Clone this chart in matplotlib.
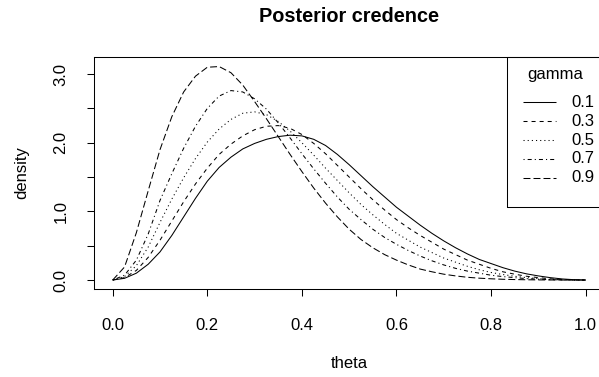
import matplotlib
matplotlib.use("Agg")
import matplotlib.pyplot as plt
from matplotlib.lines import Line2D
from matplotlib.patches import Rectangle

plt.rcParams["font.family"] = ["Liberation Sans", "DejaVu Sans"]
plt.rcParams["lines.scale_dashes"] = False

# values, theta step 0.025
theta = [0.000, 0.025, 0.050, 0.075, 0.100, 0.125, 0.150, 0.175, 0.200, 0.225,
         0.250, 0.275, 0.300, 0.325, 0.350, 0.375, 0.400, 0.425, 0.450, 0.475,
         0.500, 0.525, 0.550, 0.575, 0.600, 0.625, 0.650, 0.675, 0.700, 0.725,
         0.750, 0.775, 0.800, 0.825, 0.850, 0.875, 0.900, 0.925, 0.950, 0.975,
         1.000]
dens_01 = [0.00, 0.025, 0.10, 0.23, 0.41, 0.65, 0.92, 1.19, 1.44, 1.64,
           1.79, 1.91, 1.99, 2.05, 2.09, 2.11, 2.10, 2.05, 1.96, 1.83,
           1.68, 1.52, 1.36, 1.21, 1.06, 0.93, 0.80, 0.68, 0.57, 0.47,
           0.38, 0.30, 0.24, 0.18, 0.13, 0.09, 0.06, 0.035, 0.016, 0.005,
           0.00]
dens_03 = [0.00, 0.035, 0.14, 0.33, 0.58, 0.86, 1.14, 1.40, 1.63, 1.83,
           1.98, 2.10, 2.19, 2.24, 2.25, 2.21, 2.12, 1.99, 1.84, 1.67,
           1.50, 1.33, 1.17, 1.02, 0.88, 0.76, 0.65, 0.55, 0.45, 0.37,
           0.29, 0.23, 0.17, 0.12, 0.085, 0.055, 0.035, 0.018, 0.008, 0.002,
           0.00]
dens_05 = [0.00, 0.05, 0.21, 0.48, 0.84, 1.18, 1.49, 1.77, 2.01, 2.20,
           2.34, 2.43, 2.45, 2.41, 2.31, 2.17, 2.00, 1.82, 1.63, 1.45,
           1.27, 1.10, 0.95, 0.81, 0.68, 0.58, 0.48, 0.40, 0.32, 0.26,
           0.20, 0.15, 0.11, 0.08, 0.055, 0.035, 0.02, 0.01, 0.004, 0.001,
           0.00]
dens_07 = [0.00, 0.07, 0.29, 0.67, 1.16, 1.55, 1.92, 2.24, 2.50, 2.68,
           2.76, 2.74, 2.64, 2.49, 2.29, 2.07, 1.84, 1.62, 1.41, 1.21,
           1.03, 0.88, 0.74, 0.62, 0.52, 0.43, 0.35, 0.28, 0.22, 0.17,
           0.13, 0.10, 0.07, 0.05, 0.035, 0.02, 0.012, 0.006, 0.002, 0.0005,
           0.00]
dens_09 = [0.00, 0.19, 0.69, 1.30, 1.90, 2.38, 2.74, 2.97, 3.10, 3.11,
           3.02, 2.84, 2.60, 2.35, 2.09, 1.83, 1.58, 1.34, 1.12, 0.92,
           0.74, 0.59, 0.47, 0.37, 0.29, 0.22, 0.16, 0.12, 0.085, 0.06,
           0.04, 0.027, 0.018, 0.011, 0.007, 0.004, 0.002, 0.001, 0.00, 0.00,
           0.00]
gammas = ["0.1", "0.3", "0.5", "0.7", "0.9"]

# R lty 1..5, lengths in points
STYLES = [(0, ()), (0, (2.9, 2.9)), (0, (0.8, 2.2)), (0, (0.8, 2.2, 2.9, 2.2)),
          (0, (5.0, 2.2))]

W, H = 599, 377
fig = plt.figure(figsize=(W / 100, H / 100), dpi=100)


def fx(px):
    return px / W


def fy(py):
    return 1 - py / H


ax = fig.add_axes([fx(93.8), fy(288.6), fx(604.6 - 93.8), (288.6 - 57.3) / H])
for d, ls in zip([dens_01, dens_03, dens_05, dens_07, dens_09], STYLES):
    ax.plot(theta, d, color="black", linewidth=0.75, linestyle=ls)

ax.set_xlim(-0.04, 1.04)
ax.set_ylim(-0.1248, 3.2448)
ax.set_xticks([0, 0.2, 0.4, 0.6, 0.8, 1.0])
ax.set_xticklabels(["0.0", "0.2", "0.4", "0.6", "0.8", "1.0"])
ax.set_yticks([0, 0.5, 1, 1.5, 2, 2.5, 3])
ax.set_yticklabels(["0.0", "", "1.0", "", "2.0", "", "3.0"], rotation=90, va="center")
ax.tick_params(direction="out", length=5.2, width=0.75, labelsize=12, color="black")
ax.tick_params(axis="x", pad=16)
ax.tick_params(axis="y", pad=13)
for s in ax.spines.values():
    s.set_linewidth(0.75)

fig.text(fx(349), fy(16), "Posterior credence", ha="center", va="center",
         fontsize=14.3, fontweight="bold")
fig.text(fx(349), fy(363), "theta", ha="center", va="center", fontsize=12)
fig.text(fx(22), fy(173), "density", ha="center", va="center", fontsize=12,
         rotation=90)

# legend box, drawn by hand like R's topright legend
fig.add_artist(Rectangle((fx(507), fy(206.7)), fx(620 - 507), (206.7 - 57.3) / H,
                         transform=fig.transFigure, fill=False, linewidth=0.75,
                         edgecolor="black"))
fig.text(fx(555), fy(75), "gamma", ha="center", va="center", fontsize=12)
for i, (g, ls) in enumerate(zip(gammas, STYLES)):
    yy = fy(102.3 + 18.85 * i)
    fig.add_artist(Line2D([fx(522.7), fx(555.5)], [yy, yy], transform=fig.transFigure,
                          color="black", linewidth=0.75, linestyle=ls))
    fig.text(fx(571.5), yy, g, ha="left", va="center", fontsize=12)

fig.savefig("out.png", dpi=100)
